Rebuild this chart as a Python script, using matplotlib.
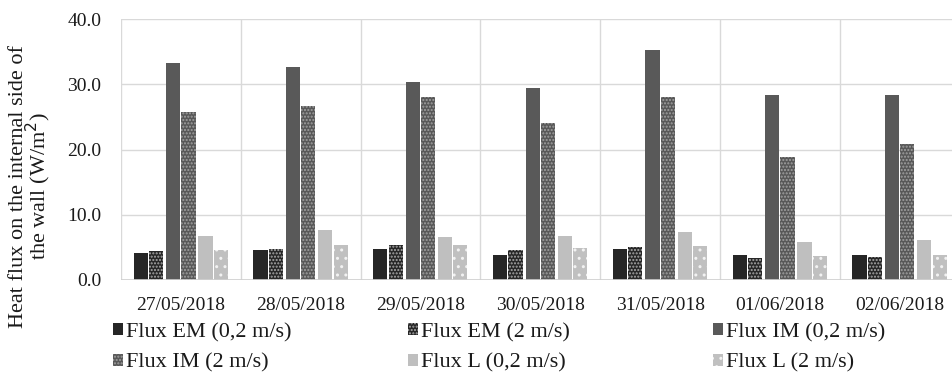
import matplotlib.pyplot as plt
import numpy as np

plt.rcParams['font.family'] = ['Liberation Serif', 'DejaVu Serif']
plt.rcParams['hatch.linewidth'] = 1.0

dates = ['27/05/2018', '28/05/2018', '29/05/2018', '30/05/2018',
         '31/05/2018', '01/06/2018', '02/06/2018']

em_02 = [4.1, 4.6, 4.8, 3.9, 4.8, 3.8, 3.8]
em_2 = [4.5, 4.8, 5.4, 4.6, 5.0, 3.4, 3.5]
im_02 = [33.2, 32.6, 30.4, 29.5, 35.3, 28.4, 28.4]
im_2 = [25.7, 26.7, 28.1, 24.0, 28.1, 18.9, 20.8]
l_02 = [6.8, 7.6, 6.6, 6.8, 7.4, 5.9, 6.1]
l_2 = [4.6, 5.3, 5.3, 4.9, 5.2, 3.7, 3.9]

labels = ['Flux EM (0,2 m/s)', 'Flux EM (2 m/s)', 'Flux IM (0,2 m/s)',
          'Flux IM (2 m/s)', 'Flux L (0,2 m/s)', 'Flux L (2 m/s)']
series = [em_02, em_2, im_02, im_2, l_02, l_2]
colors = ['#262626', '#262626', '#595959', '#585858', '#bfbfbf', '#c0c0c0']
hatches = [None, '.....', None, '.....', None, '..']
hatch_cols = [None, '#a8a8a8', None, '#a0a0a0', None, '#f2f2f2']
offsets = [-0.335, -0.207, -0.064, 0.064, 0.205, 0.333]
width = 0.118

fig = plt.figure(figsize=(9.52, 3.76), dpi=100)
ax = fig.add_axes([121/952, 1 - 280/376, 838.6/952, 261/376])

x = np.arange(len(dates))
bars = []
for vals, c, h, hc, off, lab in zip(series, colors, hatches, hatch_cols, offsets, labels):
    if h:
        b = ax.bar(x + off, vals, width, color=c, edgecolor=hc,
                   hatch=h, linewidth=0, label=lab, zorder=3)
    else:
        b = ax.bar(x + off, vals, width, color=c, linewidth=0, label=lab, zorder=3)
    bars.append(b)

ax.set_xlim(-0.5, 6.5)
ax.set_ylim(0, 40)
ax.set_yticks([0, 10, 20, 30, 40])
ax.set_yticklabels([f'{v:.1f}' for v in [0, 10, 20, 30, 40]])
ax.set_xticks(x)
ax.set_xticklabels(dates)
ax.set_xticks(np.arange(-0.5, 7.0, 1.0), minor=True)
ax.tick_params(axis='both', which='both', length=0, labelsize=14, colors='#1a1a1a')
ax.tick_params(axis='y', pad=14)
ax.tick_params(axis='x', pad=12)
ax.grid(axis='y', which='major', color='#d9d9d9', linewidth=1, zorder=0)
ax.grid(axis='x', which='minor', color='#d9d9d9', linewidth=1, zorder=0)
for s in ax.spines.values():
    s.set_visible(False)
ax.axhline(0, color='#d0d0d0', linewidth=1.2, zorder=4)

fig.text(31/952, 1 - 186/376,
         'Heat flux on the internal side of\nthe wall (W/m$^2$)',
         rotation=90, ha='center', va='center', fontsize=16,
         linespacing=0.82, color='#1a1a1a')

# three legend columns, two entries each
col_x = [113, 408, 713]
for j in range(3):
    leg = fig.legend(handles=[bars[j], bars[j + 3]], loc='upper left',
                     bbox_to_anchor=(col_x[j]/952, 1 - 323/376),
                     frameon=False, fontsize=16, handlelength=0.45,
                     handleheight=0.45, handletextpad=0.12, labelspacing=0.5,
                     borderpad=0, borderaxespad=0)
    for t in leg.get_texts():
        t.set_color('#1a1a1a')

fig.savefig('out.png', dpi=100)
